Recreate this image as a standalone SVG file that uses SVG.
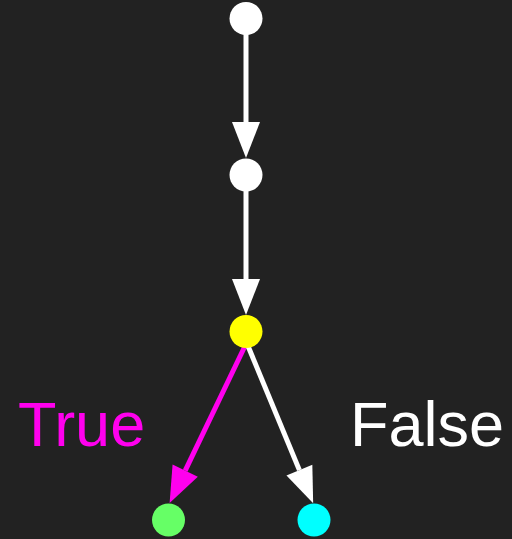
<svg xmlns="http://www.w3.org/2000/svg" width="512" height="539" viewBox="0 0 512 539">
<defs>
<style>
.edge{stroke-width:5;fill:none;stroke-linecap:butt}
.node{stroke:none}
.lbl{font-family:"Liberation Sans",Arial,sans-serif;font-size:63px}
</style>
<marker id="aw" markerUnits="userSpaceOnUse" markerWidth="40" markerHeight="30" viewBox="0 -15 37 30" refX="0" refY="0" orient="auto"><path d="M0,-14 L36,0 L0,14 z" fill="#ffffff"/></marker>
<marker id="am" markerUnits="userSpaceOnUse" markerWidth="40" markerHeight="30" viewBox="0 -15 37 30" refX="0" refY="0" orient="auto"><path d="M0,-14 L36,0 L0,14 z" fill="#ff00ee"/></marker>
</defs>
<rect width="512" height="539" fill="#222222"/>
<g id="connectors">
<line class="edge" x1="246" y1="34" x2="246" y2="122" stroke="#ffffff" marker-end="url(#aw)"/>
<line class="edge" x1="246" y1="191" x2="246" y2="279" stroke="#ffffff" marker-end="url(#aw)"/>
<line class="edge" x1="245" y1="346" x2="185.2" y2="470.6" stroke="#ff00ee" marker-end="url(#am)"/>
<line class="edge" x1="248" y1="346" x2="299.4" y2="470.1" stroke="#ffffff" marker-end="url(#aw)"/>
</g>
<g id="n1"><circle class="node" cx="246" cy="18.5" r="16.5" fill="#ffffff"/></g>
<g id="n2"><circle class="node" cx="246" cy="175" r="16.5" fill="#ffffff"/></g>
<g id="n3"><circle class="node" cx="246" cy="331.5" r="16.5" fill="#ffff00"/></g>
<g id="n4"><circle class="node" cx="168.5" cy="520" r="16.5" fill="#66ff66"/></g>
<g id="n5"><circle class="node" cx="314" cy="520" r="16.5" fill="#00ffff"/></g>
<g id="labels">
<text class="lbl" x="18" y="446" fill="#ff00ee">True</text>
<text class="lbl" x="350" y="446" fill="#ffffff">False</text>
</g>
</svg>
